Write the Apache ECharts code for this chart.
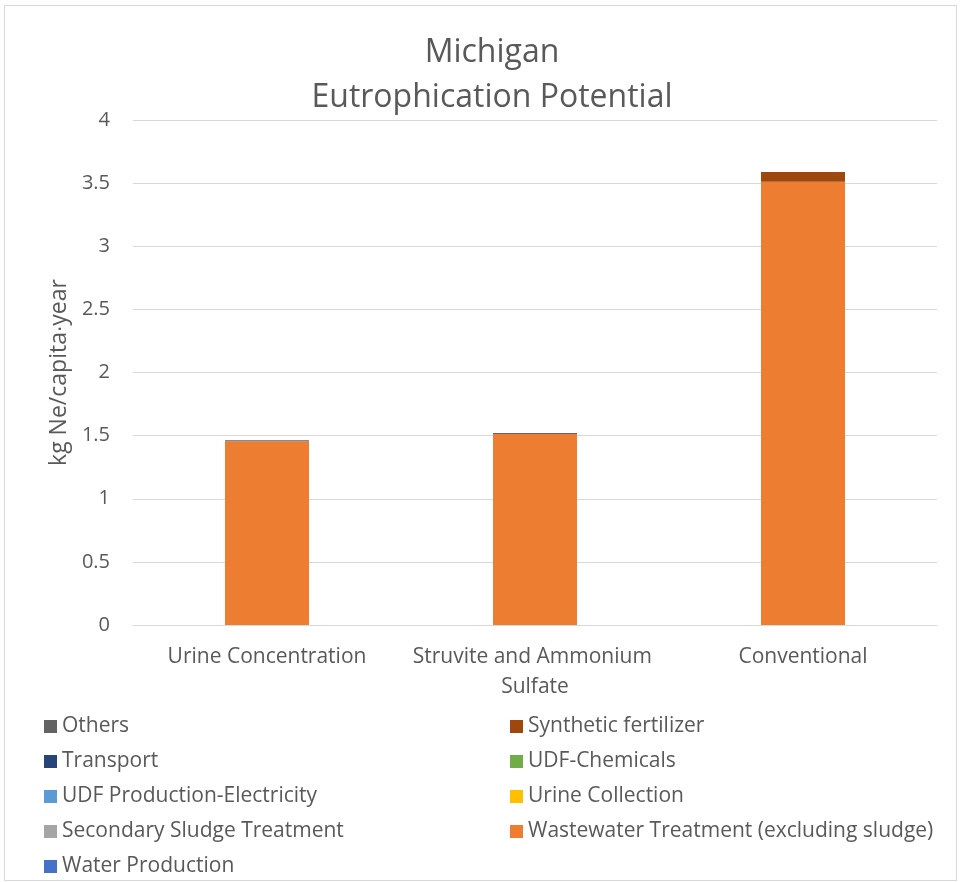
<!DOCTYPE html>
<html>
<head>
<meta charset="utf-8">
<script src="https://cdn.jsdelivr.net/npm/echarts@6/dist/echarts.min.js"></script>
<style>
  html, body { margin: 0; padding: 0; background: #fff; }
  #frame { position: absolute; left: 4px; top: 5px; width: 953px; height: 876px; border: 1px solid #D9D9D9; box-sizing: border-box; }
  #chart { position: absolute; left: 0; top: 0; width: 960px; height: 882px; }
</style>
</head>
<body>
<div id="frame"></div>
<div id="chart"></div>
<script>
// Scenarios compared
const categories = ['Urine Concentration', 'Struvite and Ammonium Sulfate', 'Conventional'];

// Contributions per process, kg Ne/capita·year (stacked bottom to top)
const waterProduction        = [0, 0, 0];
const wastewaterTreatment    = [1.456, 1.513, 3.51];
const secondarySludge        = [0, 0, 0];
const urineCollection        = [0, 0, 0];
const udfElectricity         = [0, 0, 0];
const udfChemicals           = [0, 0, 0];
const transport              = [0, 0, 0];
const syntheticFertilizer    = [0, 0, 0.079];
const others                 = [0.008, 0.007, 0];

const yTicks = { min: 0, max: 4, interval: 0.5 };

const seriesDefs = [
  { name: 'Water Production', data: waterProduction, color: '#4472C4' },
  { name: 'Wastewater Treatment (excluding sludge)', data: wastewaterTreatment, color: '#ED7D31' },
  { name: 'Secondary Sludge Treatment', data: secondarySludge, color: '#A5A5A5' },
  { name: 'Urine Collection', data: urineCollection, color: '#FFC000' },
  { name: 'UDF Production-Electricity', data: udfElectricity, color: '#5B9BD5' },
  { name: 'UDF-Chemicals', data: udfChemicals, color: '#70AD47' },
  { name: 'Transport', data: transport, color: '#264478' },
  { name: 'Synthetic fertilizer', data: syntheticFertilizer, color: '#9E480E' },
  { name: 'Others', data: others, color: '#636363' }
];

const font = '"Open Sans", sans-serif';
const textColor = '#595959';

const legendStyle = {
  orient: 'vertical',
  height: 180,
  itemWidth: 13,
  itemHeight: 13,
  itemGap: 12,
  icon: 'rect',
  textStyle: { fontFamily: font, fontSize: 21, color: textColor, padding: [0, 0, 0, 0], lineHeight: 23 },
  selectedMode: false
};

const chart = echarts.init(document.getElementById('chart'), null, { renderer: 'canvas' });
chart.setOption({
  animation: false,
  backgroundColor: 'transparent',
  title: {
    text: 'Michigan\nEutrophication Potential',
    left: 487,
    textAlign: 'center',
    top: 25,
    textStyle: { fontFamily: font, fontSize: 32, fontWeight: 'normal', color: textColor, lineHeight: 45 }
  },
  legend: [
    Object.assign({ left: 39, top: 710, data: ['Others', 'Transport', 'UDF Production-Electricity', 'Secondary Sludge Treatment', 'Water Production'] }, legendStyle),
    Object.assign({ left: 505, top: 710, data: ['Synthetic fertilizer', 'UDF-Chemicals', 'Urine Collection', 'Wastewater Treatment (excluding sludge)'] }, legendStyle)
  ],
  grid: { left: 133, right: 23, top: 120, bottom: 257, containLabel: false },
  xAxis: {
    type: 'category',
    data: categories,
    axisLine: { lineStyle: { color: '#D9D9D9', width: 1 } },
    axisTick: { show: false },
    axisLabel: {
      fontFamily: font, fontSize: 21, color: textColor, margin: 17,
      width: 262, overflow: 'break', lineHeight: 30, interval: 0
    }
  },
  yAxis: {
    type: 'value',
    min: yTicks.min, max: yTicks.max, interval: yTicks.interval,
    name: 'kg Ne/capita\u2219year',
    nameLocation: 'middle',
    nameGap: 61,
    nameRotate: 90,
    nameTextStyle: { fontFamily: font, fontSize: 23, color: textColor },
    axisLine: { show: false },
    axisTick: { show: false },
    splitLine: { lineStyle: { color: '#D9D9D9', width: 1 } },
    axisLabel: { fontFamily: font, fontSize: 20, color: textColor, margin: 23 }
  },
  series: seriesDefs.map(s => ({
    name: s.name,
    type: 'bar',
    stack: 'total',
    barWidth: 84,
    data: s.data,
    itemStyle: { color: s.color },
    emphasis: { disabled: true }
  }))
});
</script>
</body>
</html>
